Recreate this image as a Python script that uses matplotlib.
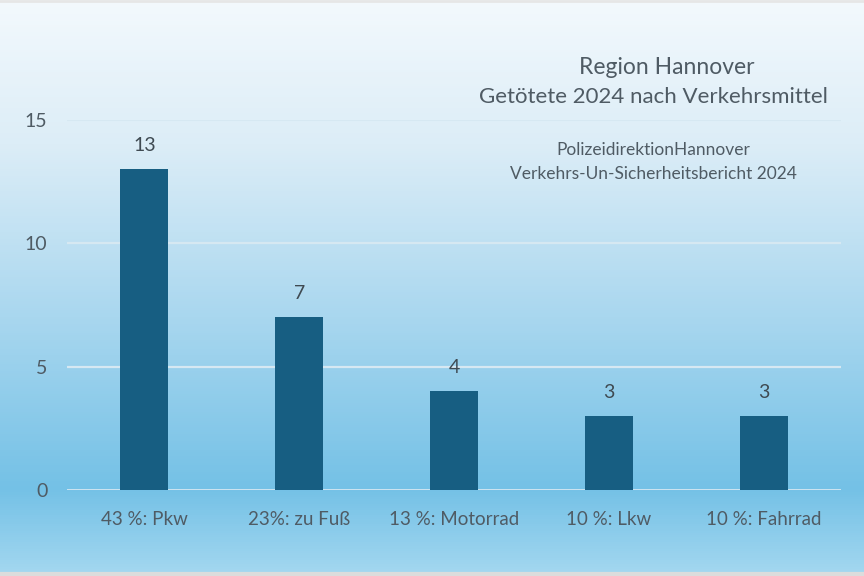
import numpy as np
import matplotlib
matplotlib.use("Agg")
import matplotlib.pyplot as plt
from matplotlib.colors import LinearSegmentedColormap

categories = ["43 %: Pkw", "23%: zu Fuß", "13 %: Motorrad", "10 %: Lkw", "10 %: Fahrrad"]
values = [13, 7, 4, 3, 3]
yticks = [0, 5, 10, 15]
title_lines = ["Region Hannover", "Getötete 2024 nach Verkehrsmittel"]
subtitle_lines = ["PolizeidirektionHannover", "Verkehrs-Un-Sicherheitsbericht 2024"]

plt.rcParams['font.family'] = ['Lato', 'DejaVu Sans']

W, H = 864, 576
fig = plt.figure(figsize=(W / 100, H / 100), dpi=100)

# background gradient
bg = fig.add_axes([0, 0, 1, 1], zorder=-10)
cmap = LinearSegmentedColormap.from_list(
    "bg",
    [(0.0, "#f3f9fd"), (0.25, "#dcedf7"), (0.55, "#a9d7ef"),
     (0.85, "#74c1e6"), (0.97, "#9ad3ee"), (1.0, "#a5d8f0")])
grad = np.linspace(0, 1, 576).reshape(-1, 1)
bg.imshow(grad, aspect="auto", cmap=cmap, extent=[0, 1, 1, 0])
bg.set_xlim(0, 1)
bg.set_ylim(1, 0)
bg.axis("off")
bg.axhline(0.996, color="#dcdcdc", lw=3)
bg.axhline(0.002, color="#e6e6e6", lw=2)

ax = fig.add_axes([67 / W, 1 - 490 / H, (841 - 67) / W, (490 - 120) / H])
ax.patch.set_alpha(0)
x = np.arange(len(categories))
ax.bar(x, values, width=0.31, color="#175e82", zorder=3)
ax.set_xlim(-0.5, len(categories) - 0.5)
ax.set_ylim(0, 15)
ax.set_yticks(yticks)
for yv in yticks:
    ax.axhline(yv, color="#d6e8f2", lw=2.0 if yv == 0 else 1.6, zorder=1)
for s in ax.spines.values():
    s.set_visible(False)
ax.tick_params(length=0)
ax.set_yticklabels([str(t) for t in yticks], fontsize=14, color="#4f5b64")
ax.tick_params(axis="y", pad=14)
ax.set_xticks(x)
ax.set_xticklabels(categories, fontsize=13.5, color="#4f5b64")
ax.tick_params(axis="x", pad=15)

for xi, v in zip(x, values):
    ax.annotate(str(v), (xi, v), xytext=(0, 11), textcoords="offset points",
                ha="center", va="bottom", fontsize=14, color="#3f4a52")

fig.text(667 / W, 1 - 67 / H, title_lines[0], ha="center", va="center",
         fontsize=16.5, color="#4f5b64")
fig.text(653 / W, 1 - 97 / H, title_lines[1], ha="center", va="center",
         fontsize=16, color="#4f5b64")
fig.text(653 / W, 1 - 150 / H, subtitle_lines[0], ha="center", va="center",
         fontsize=12.5, color="#4f5b64")
fig.text(653 / W, 1 - 174 / H, subtitle_lines[1], ha="center", va="center",
         fontsize=12.5, color="#4f5b64")

fig.savefig("out.png", dpi=100)
